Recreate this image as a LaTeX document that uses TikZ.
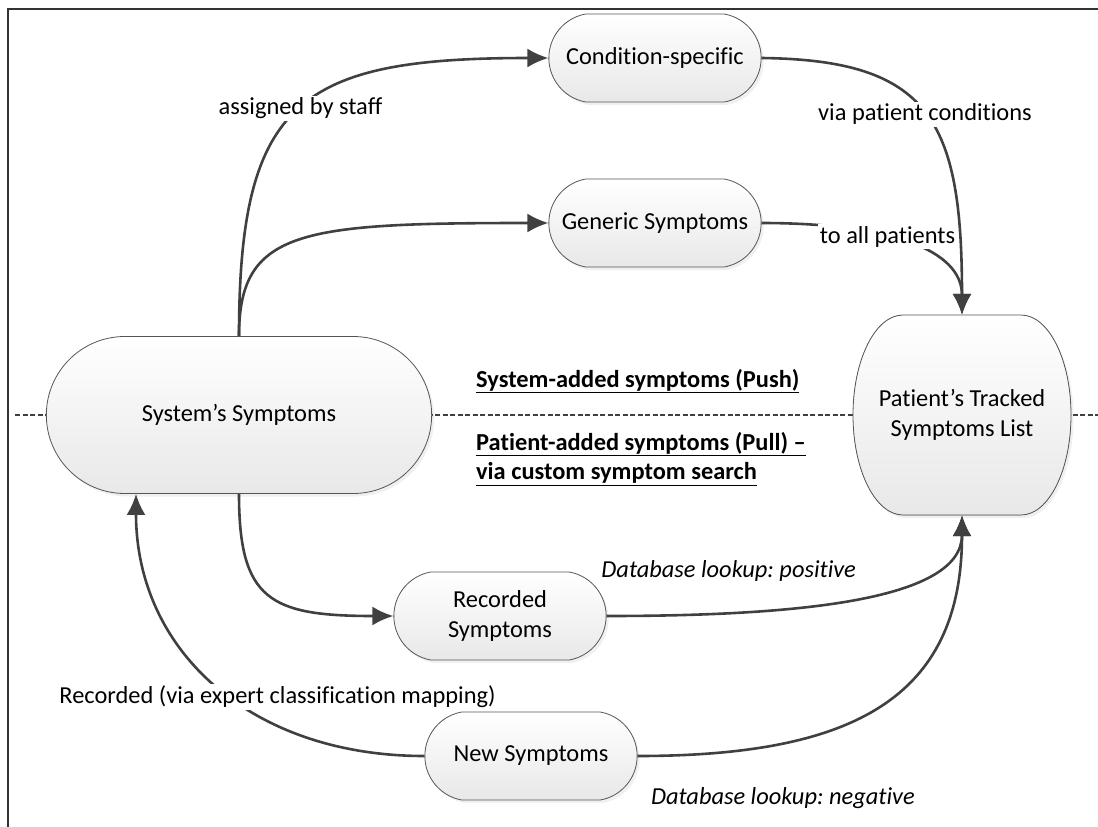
\documentclass[tikz,border=0pt]{standalone}
\usepackage{fontspec}
\setmainfont{Carlito}[Ligatures=NoCommon]
\usetikzlibrary{arrows.meta}
\usetikzlibrary{shapes.misc}
\usetikzlibrary{shadows}

\definecolor{linegray}{HTML}{404040}
\definecolor{boxline}{HTML}{555555}
\newcommand{\diagfont}{\fontsize{24.4}{29.5}\selectfont}
\frenchspacing

\begin{document}
\begin{tikzpicture}
	[
	x=1pt, y=-1pt,
	every node/.style={font=\diagfont},
	> = {Latex[length=21pt,width=19pt]},
	boxlook/.style = {draw=boxline, line width=0.8pt, top color=white, bottom color=black!9,
		drop shadow={shadow xshift=2.5pt, shadow yshift=-3pt, opacity=0.12}},
	box/.style = {boxlook, rounded rectangle, rounded rectangle arc length=160,
		minimum width=219pt, minimum height=88pt, align=center},
	flow/.style = {->, draw=linegray, line width=2.6pt},
	lbl/.style = {fill=white, inner sep=2pt},
	heading/.style = {anchor=west, inner sep=0pt, align=left, font=\diagfont\bfseries}
	]
	\useasboundingbox (0,0) rectangle (1098,827);
	\draw[line width=1.4pt, black!80] (8,827) -- (8,9) -- (1098,9);
	\draw[linegray, line width=2pt, dash pattern=on 5pt off 2.5pt] (15,415) -- (1098,415);

	% boxes
	\node[box] (cond) at (655,58) {Condition-specific};
	\node[box] (gen) at (655,223) {Generic Symptoms};
	\node[box, minimum width=392pt, minimum height=157pt, rounded rectangle arc length=180] (sys) at (239,415) {System’s Symptoms};
	\node[box] (rec) at (500,616) {Recorded\\Symptoms};
	\node[box] (new) at (531,756) {New Symptoms};

	\coordinate (patc) at (962,415);
	\filldraw[boxlook] ([xshift=-59pt,yshift=100pt]patc) -- ([xshift=59pt,yshift=100pt]patc)
		arc[start angle=90, end angle=0, x radius=50pt, y radius=100pt]
		arc[start angle=0, end angle=-90, x radius=50pt, y radius=100pt]
		-- ([xshift=-59pt,yshift=-100pt]patc)
		arc[start angle=270, end angle=180, x radius=50pt, y radius=100pt]
		arc[start angle=180, end angle=90, x radius=50pt, y radius=100pt] -- cycle;
	\node[minimum width=218pt, minimum height=200pt, align=center] (pat) at (patc) {Patient’s Tracked\\Symptoms List};

	\node[heading] (push) at (476,381) {\underline{System-added symptoms (Push)}};
	\node[heading] (pull) at (476,459) {\underline{Patient-added symptoms (Pull) –}\\\underline{via custom symptom search}};

	% push
	\draw[flow] (sys.north) .. controls (239,100) and (300,58) .. node[lbl] {assigned by staff} (cond.west);
	\draw[flow] (sys.north) .. controls (239,230) and (300,223) .. (gen.west);
	\draw[flow] (gen.east) .. controls (890,223) and (962,250) .. node[lbl, pos=0.4] {to all patients} (pat.north);
	\draw[flow] (cond.east) .. controls (930,60) and (962,120) .. node[lbl] {via patient conditions} (pat.north);

	% pull
	\draw[flow] (sys.south) .. controls (239,600) and (270,616) .. (rec.west);
	\draw[flow] (rec.east) .. controls (800,616) and (962,600) .. node[pos=0.25, xshift=-15pt, yshift=41pt, font=\diagfont\itshape] {Database lookup: positive} (pat.south);
	\draw[flow] (new.east) .. controls (850,756) and (962,700) .. node[pos=0.25, xshift=5pt, yshift=-54pt, font=\diagfont\itshape] {Database lookup: negative} (pat.south);
	\draw[flow] (new.west) .. controls (250,756) and (136,650) .. node[lbl, pos=0.45, xshift=47pt] {Recorded (via expert classification mapping)} ([xshift=-103pt]sys.south);
\end{tikzpicture}
\end{document}
